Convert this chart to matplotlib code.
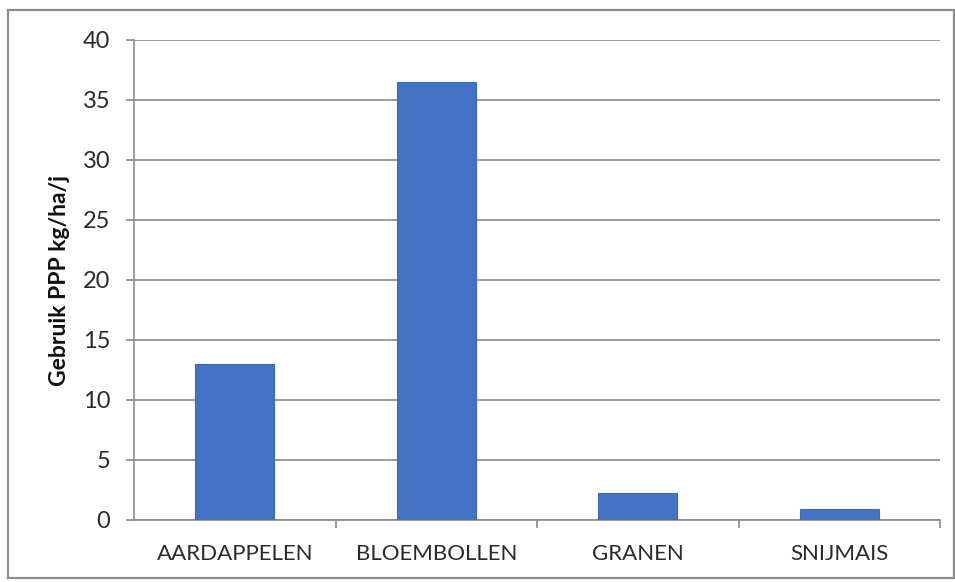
import matplotlib
matplotlib.use("Agg")
import matplotlib.pyplot as plt
from matplotlib.patches import Rectangle

categories = ["AARDAPPELEN", "BLOEMBOLLEN", "GRANEN", "SNIJMAIS"]
values = [13.0, 36.5, 2.25, 0.9]
y_ticks = [0, 5, 10, 15, 20, 25, 30, 35, 40]
y_label = "Gebruik PPP kg/ha/j"

plt.rcParams["font.family"] = ["Lato", "DejaVu Sans"]

W, H = 955, 582
fig = plt.figure(figsize=(W / 100, H / 100), dpi=100)
fig.patch.set_facecolor("white")

# outer chart frame
fig.patches.append(Rectangle((8 / W, 4 / H), 1 - 8 / W - 1 / W, 1 - 4 / H - 10 / H,
                             transform=fig.transFigure, fill=False,
                             edgecolor="#8c8c8c", linewidth=1.6))

ax = fig.add_axes([134 / W, 1 - 520 / H, (940 - 134) / W, (520 - 40) / H])
x = list(range(len(categories)))
ax.bar(x, values, width=0.39, color="#4472c4", edgecolor="#3e68b4", linewidth=0.8, zorder=3)

ax.set_xlim(-0.5, len(categories) - 0.5)
ax.set_ylim(0, 40)
ax.set_yticks(y_ticks)
ax.set_yticklabels([str(v) for v in y_ticks], fontsize=17, color="#2a2a2a")
ax.yaxis.grid(True, color="#8a8a8a", linewidth=1.2, zorder=0)
ax.tick_params(axis="y", length=6, width=1.2, color="#8a8a8a", pad=11)

ax.set_xticks(x)
ax.set_xticklabels(categories, fontsize=16, color="#2a2a2a")
ax.set_xticks([i + 0.5 for i in x], minor=True)
ax.tick_params(axis="x", which="major", length=0, pad=17)
ax.tick_params(axis="x", which="minor", length=6, width=1.2, color="#8a8a8a")

for side in ["top", "right"]:
    ax.spines[side].set_visible(False)
ax.spines["left"].set_color("#8a8a8a")
ax.spines["left"].set_linewidth(1.2)
ax.spines["bottom"].set_color("#8a8a8a")
ax.spines["bottom"].set_linewidth(1.2)

ax.set_ylabel(y_label, fontsize=16.5, fontweight="bold", color="#111111")
ax.yaxis.set_label_coords((70 - 134) / (940 - 134), 0.5)

fig.savefig("out.png", dpi=100, facecolor="white")
